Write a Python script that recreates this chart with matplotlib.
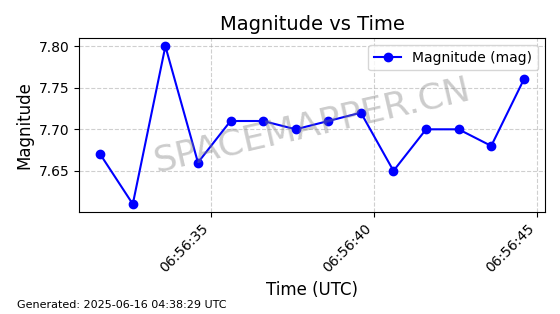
import matplotlib
matplotlib.use("Agg")
import matplotlib.pyplot as plt
import matplotlib.dates as mdates
import pandas as pd

times = pd.to_datetime([
    "2025-06-16 06:56:31.6", "2025-06-16 06:56:32.6", "2025-06-16 06:56:33.6",
    "2025-06-16 06:56:34.6", "2025-06-16 06:56:35.6", "2025-06-16 06:56:36.6",
    "2025-06-16 06:56:37.6", "2025-06-16 06:56:38.6", "2025-06-16 06:56:39.6",
    "2025-06-16 06:56:40.6", "2025-06-16 06:56:41.6", "2025-06-16 06:56:42.6",
    "2025-06-16 06:56:43.6", "2025-06-16 06:56:44.6",
])
magnitudes = [7.67, 7.61, 7.80, 7.66, 7.71, 7.71, 7.70,
              7.71, 7.72, 7.65, 7.70, 7.70, 7.68, 7.76]
generated = "Generated: 2025-06-16 04:38:29 UTC"

fig, ax = plt.subplots(figsize=(5.6, 3.14), dpi=100)
ax.plot(times, magnitudes, marker='o', color='blue', linestyle='-',
        label='Magnitude (mag)')

ax.set_title('Magnitude vs Time', fontsize=14)
ax.set_xlabel('Time (UTC)', fontsize=12)
ax.set_ylabel('Magnitude', fontsize=12)
ax.grid(True, linestyle='--', alpha=0.6)
ax.legend(loc='upper right')

ax.xaxis.set_major_locator(mdates.SecondLocator(bysecond=range(0, 60, 5)))
ax.xaxis.set_major_formatter(mdates.DateFormatter('%H:%M:%S'))
plt.setp(ax.get_xticklabels(), rotation=45, ha='right')

# watermark
ax.text(0.5, 0.5, 'SPACEMAPPER.CN', transform=ax.transAxes, fontsize=26,
        color='gray', alpha=0.4, rotation=13, ha='center', va='center')

fig.text(0.03, 0.02, generated, fontsize=8)

plt.tight_layout()
fig.savefig("out.png", dpi=100)
